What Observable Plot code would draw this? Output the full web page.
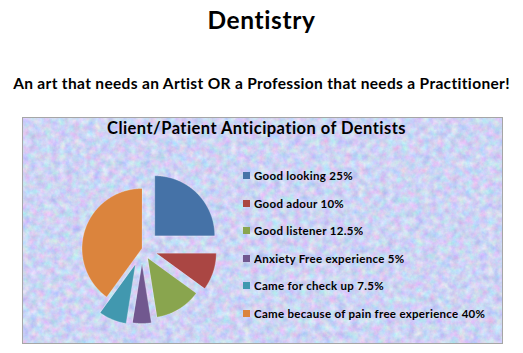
<!DOCTYPE html>
<html><head><meta charset="utf-8">
<script src="https://cdn.jsdelivr.net/npm/d3@7"></script>
<script src="https://cdn.jsdelivr.net/npm/@observablehq/plot@0.6"></script>
<style>
html,body{margin:0;padding:0;background:#fff;}
#page{position:relative;width:523px;height:353px;overflow:hidden;font-family:Lato,"Liberation Sans",sans-serif;font-weight:700;color:#000;}
.t{position:absolute;left:0;width:523px;text-align:center;white-space:nowrap;line-height:1;}
#title{top:8px;font-size:24.5px;letter-spacing:0.6px;}
#subtitle{top:75.7px;font-size:15.5px;letter-spacing:0.33px;}
#box{position:absolute;left:22px;top:117px;width:481px;height:227px;box-sizing:border-box;border:1px solid #a6a6a6;background:#ccd2f3;}
#ctitle{position:absolute;left:0;top:2.4px;width:467px;text-align:center;font-size:16.5px;letter-spacing:0.45px;line-height:1;white-space:nowrap;}
#chart{position:absolute;left:0;top:0;}
#legend{position:absolute;left:220px;top:44px;width:258px;}
#legend .lg-swatches{font-family:Lato,"Liberation Sans",sans-serif;font-weight:700;font-size:11.5px;letter-spacing:0.3px;color:#000;margin:0;}
#legend .lg-swatch{display:flex;align-items:center;height:27.5px;padding:0;margin:0;}
#legend .lg-swatch > svg{margin-right:4px;}
#legend .lg-label{overflow:visible;white-space:nowrap;}
</style>
</head><body>
<div id="page">
  <div class="t" id="title">Dentistry</div>
  <div class="t" id="subtitle">An art that needs an Artist OR a Profession that needs a Practitioner!</div>
  <div id="box">
    <div id="ctitle">Client/Patient Anticipation of Dentists</div>
    <div id="chart"></div>
    <div id="legend"></div>
  </div>
</div>
<script>
// ---- data ----
const categories = ["Good looking", "Good adour", "Good listener", "Anxiety Free experience", "Came for check up", "Came because of pain free experience"];
const values = [25, 10, 12.5, 5, 7.5, 40];
// ---- styling ----
const colors = ["#4572A7", "#AA4643", "#89A54E", "#71588F", "#4198AF", "#DB843D"];
const explode = [18, 15, 11, 15, 17, 0];

const labels = categories.map((c, i) => `${c} ${values[i]}%`);

// textured background
const tex = `<svg xmlns='http://www.w3.org/2000/svg' width='479' height='225'><filter id='n' x='0' y='0' width='100%' height='100%' color-interpolation-filters='sRGB'><feTurbulence type='fractalNoise' baseFrequency='0.14' numOctaves='4' seed='7'/><feColorMatrix values='0.35 0 0 0 0.63  0 0.3 0 0 0.68  0 0 0.15 0 0.88  0 0 0 0 1'/></filter><rect width='100%' height='100%' filter='url(#n)'/></svg>`;
document.getElementById("box").style.backgroundImage = `url("data:image/svg+xml,${encodeURIComponent(tex)}")`;

const W = 479, H = 225, cx = 118.5, cy = 130, R = 60;
const arcs = d3.pie().sort(null).value(d => d)(values);
const pts = [];
arcs.forEach((a, i) => {
  const mid = (a.startAngle + a.endAngle) / 2;
  const ox = explode[i] * Math.sin(mid), oy = -explode[i] * Math.cos(mid);
  pts.push({k: labels[i], x: ox, y: oy});
  const n = Math.max(2, Math.ceil((a.endAngle - a.startAngle) / (Math.PI / 360)));
  for (let j = 0; j <= n; j++) {
    const t = a.startAngle + (a.endAngle - a.startAngle) * j / n;
    pts.push({k: labels[i], x: ox + R * Math.sin(t), y: oy - R * Math.cos(t)});
  }
});

const color = {domain: labels, range: colors};
const chart = Plot.plot({
  width: W, height: H, margin: 0,
  x: {domain: [-cx, W - cx], range: [0, W], axis: null},
  y: {domain: [-cy, H - cy], range: [0, H], axis: null},
  color,
  style: {background: "transparent", overflow: "visible"},
  marks: [
    Plot.line(pts, {x: "x", y: "y", z: "k", fill: "k", stroke: "#ffffff", strokeOpacity: 0.35, strokeWidth: 0.8, curve: "linear-closed"})
  ]
});
document.getElementById("chart").appendChild(chart);

const legend = Plot.legend({color, columns: 1, swatchSize: 7, className: "lg"});
document.getElementById("legend").appendChild(legend);
</script>
</body></html>
